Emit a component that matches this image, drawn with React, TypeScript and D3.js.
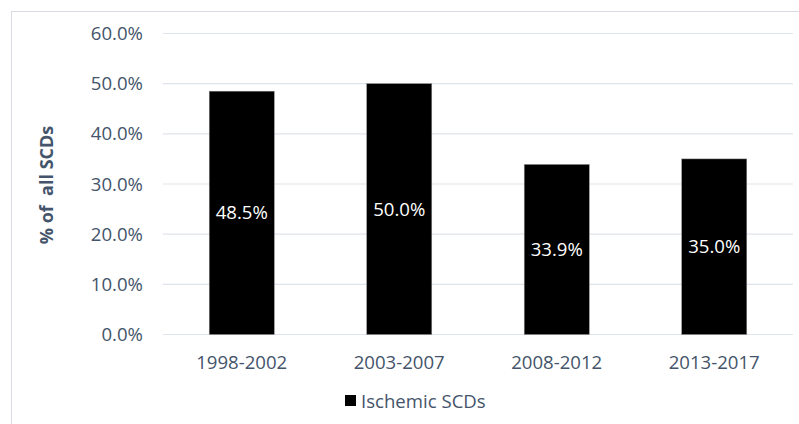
import React from "react";
import * as d3 from "d3";

const categories = ["1998-2002", "2003-2007", "2008-2012", "2013-2017"];
const values = [48.5, 50.0, 33.9, 35.0];
const yTicks = [0, 10, 20, 30, 40, 50, 60];
const seriesName = "Ischemic SCDs";
const yTitle = "% of  all SCDs";

const W = 799;
const H = 424;
const FONT = "'Open Sans', sans-serif";
const TEXT = "#44546A";
const FS = 18.6;

export default function App() {
  const x = d3.scaleBand<string>().domain(categories).range([163, 793]).paddingInner(0.587).paddingOuter(0.2935);
  const y = d3.scaleLinear().domain([0, 60]).range([334.5, 33.5]);
  return (
    <svg width={W} height={H} style={{ position: "absolute", left: 0, top: 0, background: "#fff" }}>
      <rect x={11.5} y={11.5} width={W} height={H} fill="#fff" stroke="#d9dde3" strokeWidth={1} />
      {yTicks.map((t) => (
        <g key={t}>
          <line x1={163} x2={793} y1={y(t)} y2={y(t)} stroke="#dfe3ea" strokeWidth={1.2} />
          <text x={143} y={y(t)} dy="0.35em" textAnchor="end" fontFamily={FONT} fontSize={FS} fill={TEXT}>
            {t.toFixed(1) + "%"}
          </text>
        </g>
      ))}
      {categories.map((c, i) => (
        <g key={c}>
          <rect x={x(c)} y={y(values[i])} width={x.bandwidth()} height={y(0) - y(values[i])} fill="#000" stroke="#8c8c8c" strokeWidth={0.5} />
          <text x={x(c)! + x.bandwidth() / 2} y={(y(values[i]) + y(0)) / 2} dy="0.35em" textAnchor="middle" fontFamily={FONT} fontSize={FS} fill="#fff">
            {values[i].toFixed(1) + "%"}
          </text>
          <text x={x(c)! + x.bandwidth() / 2} y={362} dy="0.35em" textAnchor="middle" fontFamily={FONT} fontSize={FS} fill={TEXT}>
            {c}
          </text>
        </g>
      ))}
      <text transform={`translate(47,185) rotate(-90)`} textAnchor="middle" dy="0.35em" fontFamily={FONT} fontSize={18} fontWeight="bold" fill={TEXT} style={{ whiteSpace: "pre" }}>
        {yTitle}
      </text>
      <rect x={345} y={395} width={11} height={11} fill="#000" />
      <text x={361} y={401} dy="0.35em" fontFamily={FONT} fontSize={FS} fill={TEXT}>
        {seriesName}
      </text>
    </svg>
  );
}
